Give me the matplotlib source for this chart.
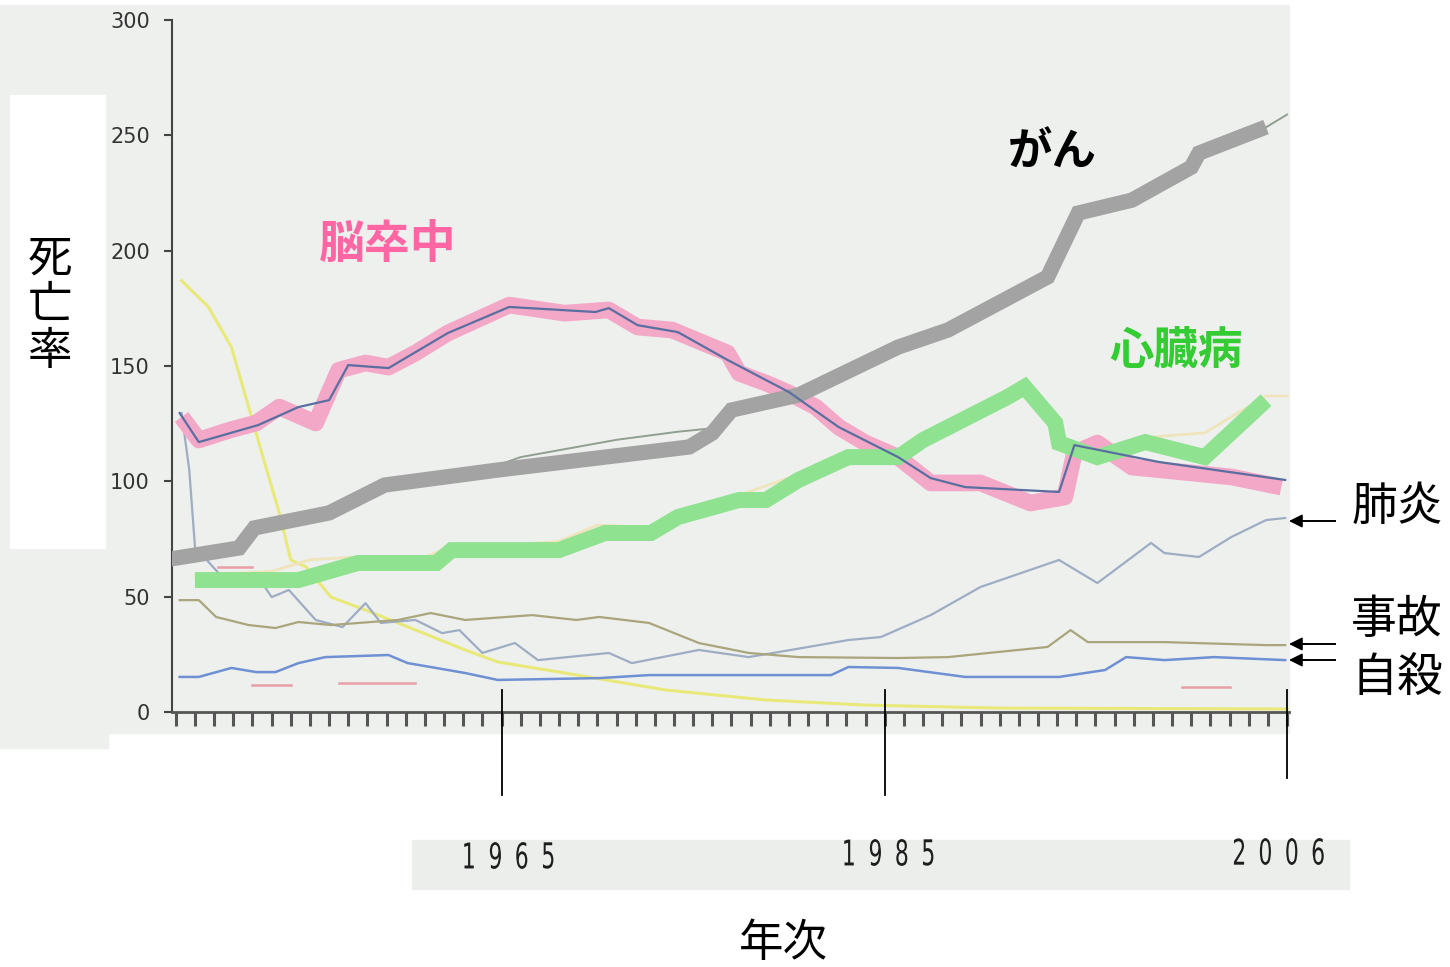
import matplotlib.pyplot as plt
import numpy as np
from matplotlib.patches import Rectangle, PathPatch
from matplotlib.textpath import TextPath
from matplotlib.font_manager import FontProperties
from matplotlib.transforms import Affine2D

plt.rcParams['font.family'] = ['Noto Sans CJK JP', 'DejaVu Sans']

W, H = 1450, 967

# ---- data (deaths per 100k) ----
# thick hand-drawn overlays
cancer_years = [1947.4, 1951.3, 1952.1, 1956.0, 1958.9, 1964.8, 1974.8, 1976.0, 1977.0,
                1980.5, 1985.7, 1988.3, 1993.5, 1995.1, 1997.9, 2001.0, 2001.4, 2004.9]
cancer_vals = [65.9, 71.1, 79.8, 86.3, 98.4, 104.9, 114.9, 120.9, 130.9,
               137.4, 158.2, 165.6, 188.6, 216.3, 221.9, 236.2, 242.3, 253.6]

stroke_hl_years = [1948.3, 1949.2, 1950.8, 1952.2, 1953.4, 1955.3, 1956.5, 1957.9, 1959.1,
                   1960.5, 1962.2, 1965.4, 1968.3, 1970.6, 1972.1, 1973.9, 1976.8, 1977.4,
                   1978.8, 1980.0, 1981.4, 1982.6, 1984.0, 1985.7, 1987.4, 1990.0, 1992.6,
                   1994.4, 1994.9, 1996.1, 1997.9, 2003.1, 2005.7]
stroke_hl_vals = [127.9, 117.9, 122.2, 125.3, 132.2, 125.3, 148.2, 151.3, 149.5,
                  155.6, 164.3, 176.4, 172.9, 174.3, 166.9, 165.6, 155.6, 146.9,
                  142.6, 138.3, 132.2, 123.5, 116.6, 110.5, 99.3, 99.3, 90.6,
                  93.2, 112.3, 116.6, 106.2, 101.9, 97.5]

heart_years = [1949.0, 1954.4, 1957.5, 1961.6, 1962.4, 1968.0, 1970.4, 1972.8, 1974.2,
               1977.4, 1978.8, 1980.5, 1983.1, 1985.7, 1987.0, 1991.4, 1992.3, 1993.9,
               1994.1, 1996.1, 1998.6, 2001.7, 2004.9]
heart_vals = [57.2, 57.2, 64.6, 64.6, 70.2, 70.2, 77.6, 77.6, 84.5,
              91.9, 91.9, 100.6, 110.5, 110.5, 117.9, 136.5, 140.9, 125.3,
              116.6, 110.5, 117.0, 110.5, 135.2]

# thin original lines
stroke_years = [1948.2, 1949.2, 1952.3, 1954.4, 1956.0, 1957.0, 1959.1, 1962.2, 1965.4,
                1969.9, 1970.6, 1972.1, 1974.2, 1976.8, 1980.0, 1982.6, 1985.7, 1987.4,
                1989.2, 1994.1, 1994.9, 1999.3, 2005.9]
stroke_vals = [129.6, 117.0, 124.4, 132.2, 135.2, 150.4, 149.1, 164.3, 175.6,
               173.4, 175.1, 167.7, 164.7, 152.6, 138.7, 123.5, 110.5, 101.4,
               97.5, 95.4, 115.7, 108.4, 100.6]

cancer_thin_years = [1947.8, 1951.3, 1952.1, 1956.0, 1958.9, 1964.8, 1966.0, 1971.0,
                     1974.2, 1976.0, 1977.0, 1980.5, 1985.7, 1988.3, 1993.5, 1995.1,
                     1997.9, 2001.0, 2001.4, 2004.9, 2006.0]
cancer_thin_vals = [66.5, 71.5, 80.0, 86.5, 98.5, 107.0, 110.5, 118.0,
                    121.5, 123.0, 131.0, 137.5, 158.0, 165.5, 188.5, 216.0,
                    222.0, 236.0, 242.0, 253.5, 259.0]

heart_thin_years = [1949.0, 1953.0, 1955.0, 1957.0, 1961.0, 1962.4, 1965.0, 1968.0,
                    1970.0, 1973.0, 1974.2, 1977.4, 1980.5, 1983.1, 1985.7, 1987.0,
                    1991.4, 1992.3, 1993.5, 1994.0, 1996.0, 1998.6, 2001.7, 2004.9, 2006.0]
heart_thin_vals = [59, 61, 66, 67, 67, 72, 72, 74,
                   81, 80, 87, 94, 103, 113, 113, 120,
                   139, 143, 133, 119, 112, 119, 121, 137, 137]

tb_years = [1948.3, 1949.7, 1950.9, 1951.8, 1952.7, 1953.4, 1954.0, 1954.8, 1956.1,
            1957.9, 1959.6, 1963.1, 1964.8, 1968.3, 1973.6, 1978.8, 1984.0, 1990.9, 2006.0]
tb_vals = [187.0, 175.6, 158.2, 132.2, 106.2, 86.3, 65.9, 62.9, 49.8,
           44.2, 38.6, 26.9, 21.7, 16.9, 9.5, 5.2, 3.0, 1.7, 1.3]

pneu_years = [1948.3, 1948.7, 1949.0, 1950.8, 1952.3, 1953.0, 1953.9, 1955.3, 1956.7,
              1957.9, 1958.7, 1960.5, 1961.9, 1962.8, 1964.0, 1965.7, 1966.9, 1970.6,
              1971.8, 1975.3, 1977.9, 1980.1, 1983.1, 1984.8, 1987.4, 1990.0, 1994.1,
              1996.1, 1998.9, 1999.6, 2001.4, 2003.1, 2004.9, 2005.9]
pneu_vals = [129.6, 105.0, 71.5, 55.0, 58.5, 49.8, 52.9, 39.9, 36.8,
             47.2, 38.6, 39.9, 34.2, 35.5, 25.6, 29.9, 22.5, 25.6,
             21.2, 26.9, 23.8, 26.9, 31.2, 32.5, 42.0, 54.2, 65.9,
             55.9, 73.3, 68.9, 67.2, 75.9, 83.2, 84.1]

accident_years = [1948.2, 1949.2, 1950.1, 1951.8, 1953.2, 1954.4, 1956.1, 1959.6, 1961.3,
                  1963.1, 1966.6, 1968.9, 1970.1, 1972.7, 1975.3, 1977.9, 1980.5, 1985.7,
                  1988.3, 1990.9, 1993.5, 1994.7, 1995.6, 1999.6, 2004.9, 2005.9]
accident_vals = [48.5, 48.5, 41.2, 37.7, 36.4, 39.0, 37.7, 39.9, 42.9,
                 39.9, 42.0, 39.9, 41.2, 38.6, 29.9, 25.6, 23.8, 23.4,
                 23.8, 26.0, 28.2, 35.5, 30.3, 30.3, 29.0, 29.0]

suicide_years = [1948.2, 1949.2, 1950.9, 1952.2, 1953.2, 1954.4, 1955.8, 1959.1, 1960.1,
                 1961.3, 1963.1, 1964.8, 1970.1, 1972.7, 1982.2, 1983.1, 1985.7, 1989.2,
                 1994.1, 1996.5, 1997.6, 1999.6, 2002.2, 2005.9]
suicide_vals = [15.2, 15.2, 19.1, 17.3, 17.3, 21.2, 23.8, 24.7, 21.2,
                19.5, 16.9, 13.9, 14.7, 16.0, 16.0, 19.5, 19.1, 15.2,
                15.2, 18.2, 23.8, 22.5, 23.8, 22.5]

# faint fragments of other series
frag_years = [1950.2, 1952.0, np.nan, 1952.0, 1954.0, np.nan, 1956.5, 1960.5, np.nan,
              2000.5, 2003.0]
frag_vals = [63.0, 63.0, np.nan, 11.7, 11.7, np.nan, 12.6, 12.6, np.nan,
             10.8, 10.8]

y_ticks = [0, 50, 100, 150, 200, 250, 300]
marker_years = [1965, 1985, 2006]
marker_bottoms = [-36, -36, -28.6]
year_labels = ['1965', '1985', '2006']
# pixel position of first digit centre and centre height
year_label_px = [(469, 855.5), (849, 852.5), (1239, 851.5)]


def fx(px):
    return px / W


def fy(py):
    return 1 - py / H


fig = plt.figure(figsize=(W / 100, H / 100), dpi=100)
fig.patch.set_facecolor('white')

# scanned page background and white patches
fig.patches.append(Rectangle((0, fy(733)), fx(1289), (733 - 5) / H,
                             transform=fig.transFigure, color='#eef0ee', zorder=-2))
fig.patches.append(Rectangle((0, fy(748)), fx(108), 15 / H,
                             transform=fig.transFigure, color='#eef0ee', zorder=-2))
fig.patches.append(Rectangle((fx(412), fy(889)), (1349 - 412) / W, 49 / H,
                             transform=fig.transFigure, color='#eceeec', zorder=-2))
fig.patches.append(Rectangle((fx(10), fy(548)), 95 / W, (548 - 95) / H,
                             transform=fig.transFigure, color='white', zorder=-1))

ax = fig.add_axes([fx(172), fy(712), (1289 - 172) / W, (712 - 20) / H])
ax.set_zorder(2)
ax.patch.set_visible(False)
ax.set_xlim(1947.8, 2006.1)
ax.set_ylim(0, 300)

# thin original lines
ax.plot(tb_years, tb_vals, color='#e9e97a', lw=2.2, zorder=2)
ax.plot(pneu_years, pneu_vals, color='#9eadc4', lw=1.6, zorder=2)
ax.plot(accident_years, accident_vals, color='#a9a57c', lw=1.6, zorder=2)
ax.plot(suicide_years, suicide_vals, color='#6f90d2', lw=1.8, zorder=2)
ax.plot(frag_years, frag_vals, color='#e8a0a8', lw=1.8, zorder=2)
ax.plot(heart_thin_years, heart_thin_vals, color='#efe4bc', lw=2, zorder=2)
ax.plot(cancer_thin_years, cancer_thin_vals, color='#8f9f90', lw=1.4, zorder=2)

# thick overlays
ax.plot(stroke_hl_years, stroke_hl_vals, color='#f3a8c8', lw=12,
        solid_capstyle='butt', solid_joinstyle='round', zorder=3)
ax.plot(cancer_years, cancer_vals, color='#a3a3a3', lw=11,
        solid_capstyle='butt', solid_joinstyle='miter', zorder=4)
ax.plot(heart_years, heart_vals, color='#8fe28f', lw=11.5,
        solid_capstyle='butt', solid_joinstyle='miter', zorder=5)
ax.plot(stroke_years, stroke_vals, color='#5a6fa0', lw=1.6, zorder=6)

# axes styling
for s in ['top', 'right']:
    ax.spines[s].set_visible(False)
ax.spines['left'].set_color('#444444')
ax.spines['left'].set_linewidth(1.5)
ax.spines['bottom'].set_color('#555555')
ax.spines['bottom'].set_linewidth(2)
ax.set_yticks(y_ticks)
ax.tick_params(axis='y', length=6, width=1.5, color='#444444', pad=10,
               labelsize=15, labelcolor='#333333')
for lab in ax.get_yticklabels():
    lab.set_family('DejaVu Sans')
ax.set_xticks(np.arange(1948, 2007))
ax.set_xticklabels([])
ax.tick_params(axis='x', length=10, width=2.2, color='#555555', direction='out')

# year markers below the axis
for yr, yb in zip(marker_years, marker_bottoms):
    ax.plot([yr, yr], [9.5, yb], color='black', lw=1.3, clip_on=False, zorder=7)

# y label
fig.text(fx(50), fy(305), '死\n亡\n率', fontsize=32, ha='center', va='center',
         linespacing=1.0)

# condensed year labels: each digit drawn as a squeezed text path (pixel units)
digit_prop = FontProperties(family='DejaVu Sans')
pix = Affine2D().scale(1 / W, 1 / H) + fig.transFigure
for lab, (px0, pyc) in zip(year_labels, year_label_px):
    for i, ch in enumerate(lab):
        tp = TextPath((0, 0), ch, size=35.5, prop=digit_prop)
        ext = tp.get_extents()
        cx = px0 + i * 26.4
        tr = (Affine2D().translate(-(ext.x0 + ext.x1) / 2, -(ext.y0 + ext.y1) / 2)
              .scale(0.62, 1.0).translate(cx, H - pyc))
        fig.patches.append(PathPatch(tr.transform_path(tp), transform=pix,
                                     color='#1e1e1e', lw=0))

fig.text(fx(783), fy(943), '年次', fontsize=32, ha='center', va='center')

# series labels
fig.text(fx(388), fy(245), '脳卒中', fontsize=33, fontweight='bold', color='#ff66a3',
         ha='center', va='center')
fig.text(fx(1052), fy(153), 'がん', fontsize=32, fontweight='bold', color='black',
         ha='center', va='center')
fig.text(fx(1176), fy(351), '心臓病', fontsize=32, fontweight='bold', color='#33cc33',
         ha='center', va='center')
fig.text(fx(1397), fy(507), '肺炎', fontsize=33, ha='center', va='center')
fig.text(fx(1397), fy(620), '事故', fontsize=33, ha='center', va='center')
fig.text(fx(1397), fy(678), '自殺', fontsize=33, ha='center', va='center')

for py in [521, 644, 660]:
    fig.add_artist(plt.Line2D([fx(1300), fx(1335)], [fy(py), fy(py)],
                              transform=fig.transFigure, color='black', lw=1.4))
    ax.annotate('', xy=(fx(1289), fy(py)), xytext=(fx(1306), fy(py)),
                xycoords='figure fraction', textcoords='figure fraction',
                arrowprops=dict(arrowstyle='-|>', color='black', lw=1.2,
                                mutation_scale=20, shrinkA=0, shrinkB=0))

fig.savefig('out.png', dpi=100)
